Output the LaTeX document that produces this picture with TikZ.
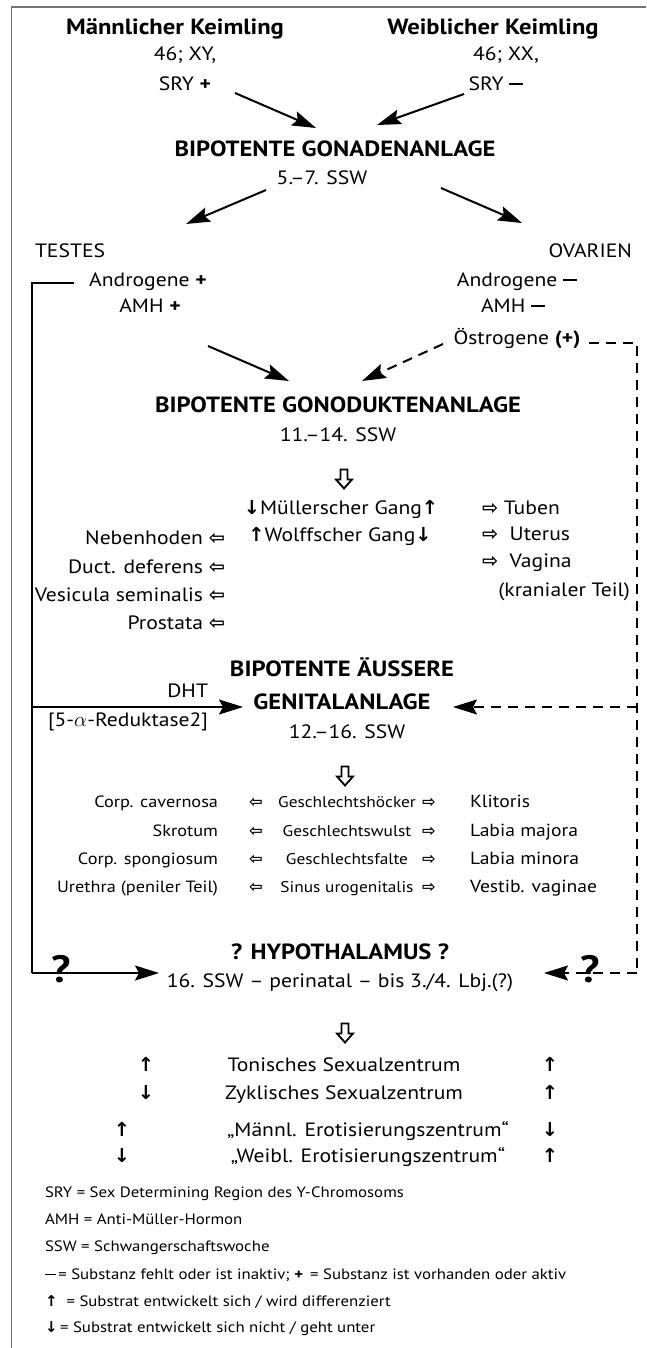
\documentclass[tikz,border=0pt]{standalone}
\usepackage{fontspec}
\setmainfont{PT Sans}[FakeStretch=1.12]
\newfontfamily\sym{DejaVu Sans}
\usetikzlibrary{arrows.meta}
\newcommand{\up}{{\sym\bfseries ↑}}
\newcommand{\dn}{{\sym\bfseries ↓}}
\newcommand{\hl}{{\sym\bfseries ⇦}}
\newcommand{\hr}{{\sym\bfseries ⇨}}
\newcommand{\mns}{\rule[0.27em]{0.72em}{0.13em}}
\begin{document}
\begin{tikzpicture}[x=1pt,y=-1pt,
  every node/.style={inner sep=0pt, outer sep=0pt},
  txt/.style={font=\fontsize{19.3}{22}\selectfont, anchor=mid},
  ttl/.style={font=\fontsize{22}{25}\selectfont\bfseries, anchor=mid},
  sm/.style={font=\fontsize{16.3}{19}\selectfont},
  smm/.style={font=\fontsize{15.5}{18}\selectfont},
  leg/.style={font=\fontsize{15}{18}\selectfont, anchor=mid west},
  bigq/.style={font=\fontsize{38}{42}\selectfont\bfseries, anchor=mid},
  arr/.style={line width=2pt, -{Stealth[length=24pt,width=15pt,inset=4pt]}},
  solidl/.style={line width=1.9pt},
  dsh/.style={line width=2pt, dash pattern=on 10pt off 7pt},
  frame/.style={draw=black!55, line width=1.5pt},
  hdown/.pic={\draw[line width=1.8pt, line join=miter]
     (-3.5,-9.5) -- (3.5,-9.5) -- (3.5,0.5) -- (8,0.5) -- (0,9.5) -- (-8,0.5) -- (-3.5,0.5) -- cycle;}
]
\useasboundingbox (0,0) rectangle (646,1348);
\draw[frame] (646,7) -- (11.5,7) -- (11.5,1348);

% top
\node[ttl] (mk) at (175,32) {Männlicher Keimling};
\node[txt] (mk2) at (185,58) {46; XY,};
\node[txt] (mk3) at (185,88) {SRY \textbf{+}};
\node[ttl] (wk) at (493,32) {Weiblicher Keimling};
\node[txt] (wk2) at (506,58) {46; XX,};
\node[txt] (wk3) at (496,88) {SRY \mns};

\node[ttl] (gon) at (335,154) {BIPOTENTE GONADENANLAGE};
\node[txt] (gon2) at (322,182) {5.–7. SSW};

\coordinate (a1s) at (235,93); \coordinate (a1e) at (316,128);
\coordinate (a2s) at (464,94); \coordinate (a2e) at (377,125);
\coordinate (a3s) at (266,190); \coordinate (a3e) at (186,224);
\coordinate (a4s) at (441,188); \coordinate (a4e) at (522,223);
\draw[arr] (a1s) -- (a1e);
\draw[arr] (a2s) -- (a2e);
\draw[arr] (a3s) -- (a3e);
\draw[arr] (a4s) -- (a4e);

% gonads
\node[txt, anchor=mid west] (tes) at (35,255) {TESTES};
\node[txt, anchor=mid east] (ova) at (632,255) {OVARIEN};
\node[txt] (andp) at (148,284) {Androgene \textbf{+}};
\node[txt] (amhp) at (150,310) {AMH \textbf{+}};
\node[txt] (andm) at (517,284) {Androgene \mns};
\node[txt] (amhm) at (513,310) {AMH \mns};
\node[txt] (oes) at (517,342) {Östrogene \textbf{(+)}};

\coordinate (b1s) at (208,346); \coordinate (b1e) at (289,381);
\coordinate (b2s) at (443,344); \coordinate (b2e) at (362,381);
\draw[arr] (b1s) -- (b1e);
\draw[arr, dsh] (b2s) -- (b2e);

% gonodukt
\node[ttl] (gd) at (338,410) {BIPOTENTE GONODUKTENANLAGE};
\node[txt] (gd2) at (338,439) {11.–14. SSW};
\pic (gd3) at (344,479) {hdown};
\node[txt] (mg) at (341,512) {\dn Müllerscher Gang\up};
\node[txt] (wg) at (340,539) {\up Wolffscher Gang\dn};
\node[txt, anchor=mid west] (tub) at (482,512) {\hr\ Tuben};
\node[txt, anchor=mid west] (ute) at (482,538) {\hr\ \ Uterus};
\node[txt, anchor=mid west] (vag) at (482,565) {\hr\ \ Vagina};
\node[txt, anchor=mid east] (kra) at (630,594) {(kranialer Teil)};
\node[txt, anchor=mid east] (neb) at (225,542) {Nebenhoden \hl};
\node[txt, anchor=mid east] (duc) at (225,571) {Duct. deferens \hl};
\node[txt, anchor=mid east] (ves) at (225,599) {Vesicula seminalis \hl};
\node[txt, anchor=mid east] (pro) at (225,627) {Prostata \hl};

% external genitals
\node[ttl] (ae1) at (342,674) {BIPOTENTE ÄUSSERE};
\node[ttl] (ae2) at (342,707) {GENITALANLAGE};
\node[txt] (ae3) at (347,736) {12.–16. SSW};
\node[txt, anchor=mid east] (dht) at (208,695) {DHT};
\node[txt, anchor=mid east] (red) at (208,724) {[5-$\alpha$-Reduktase2]};
\pic (ae4) at (345,776) {hdown};

\foreach \yy/\l/\m/\r [count=\i] in {805/Corp. cavernosa/Geschlechtshöcker/Klitoris,
  834/Skrotum/Geschlechtswulst/Labia majora,
  862/Corp. spongiosum/Geschlechtsfalte/Labia minora,
  890/Urethra (peniler Teil)/Sinus urogenitalis/Vestib. vaginae}{
  \node[sm, anchor=mid east] (gl\i) at (218,\yy) {\l};
  \node[sm, anchor=mid] (gla\i) at (256,\yy) {\hl};
  \node[smm, anchor=mid] (gm\i) at (347,\yy) {\m};
  \node[sm, anchor=mid] (gra\i) at (429,\yy) {\hr};
  \node[sm, anchor=mid west, font=\fontsize{17.5}{20}\selectfont] (gr\i) at (470,\yy) {\r};
}

% hypothalamus
\node[ttl] (hy1) at (340,957) {? HYPOTHALAMUS ?};
\node[txt] (hy2) at (340,985) {16. SSW – perinatal – bis 3./4. Lbj.(?)};
\pic (hy3) at (345,1033) {hdown};

% connectors left (solid)
\coordinate (L0) at (74,283);
\coordinate (L1) at (32,283);
\coordinate (L2) at (32,707);
\coordinate (L3) at (32,973);
\coordinate (Le1) at (243,707);
\coordinate (Le2) at (159,973);
\draw[solidl] (L0) -- (L1) -- (L3);
\draw[arr, line width=1.9pt] (L2) -- (Le1);
\draw[arr, line width=1.9pt] (L3) -- (Le2);

% connectors right (dashed)
\coordinate (R0) at (589,343);
\coordinate (R1) at (637,343);
\coordinate (R2) at (637,707);
\coordinate (R3) at (637,973);
\coordinate (Re1) at (453,707);
\coordinate (Re2) at (544,973);
\draw[dsh] (R0) -- (R1) -- (R3);
\draw[arr, dsh] (R2) -- (Re1);
\draw[arr, dsh] (R3) -- (Re2);

\node[bigq] (q1) at (61,980) {?};
\node[bigq] (q2) at (590,980) {?};

% centres
\node[txt] (c1) at (344,1069) {Tonisches Sexualzentrum};
\node[txt] (c1l) at (146,1069) {\up};
\node[txt] (c1r) at (550,1069) {\up};
\node[txt] (c2) at (344,1097) {Zyklisches Sexualzentrum};
\node[txt] (c2l) at (146,1097) {\dn};
\node[txt] (c2r) at (550,1097) {\up};
\node[txt] (c3) at (368,1134) {„Männl. Erotisierungszentrum“};
\node[txt] (c3l) at (122,1134) {\up};
\node[txt] (c3r) at (550,1134) {\dn};
\node[txt] (c4) at (368,1160) {„Weibl. Erotisierungszentrum“};
\node[txt] (c4l) at (122,1160) {\dn};
\node[txt] (c4r) at (550,1160) {\up};

% legend
\node[leg] (l1) at (45,1195) {SRY = Sex Determining Region des Y-Chromosoms};
\node[leg] (l2) at (45,1222) {AMH = Anti-Müller-Hormon};
\node[leg] (l3) at (45,1249) {SSW = Schwangerschaftswoche};
\node[leg] (l4) at (45,1277) {\mns\,= Substanz fehlt oder ist inaktiv; \textbf{+}\ \,= Substanz ist vorhanden oder aktiv};
\node[leg] (l5) at (45,1304) {\up\ \ = Substrat entwickelt sich / wird differenziert};
\node[leg] (l6) at (45,1330) {\dn\,= Substrat entwickelt sich nicht / geht unter};
\end{tikzpicture}
\end{document}
